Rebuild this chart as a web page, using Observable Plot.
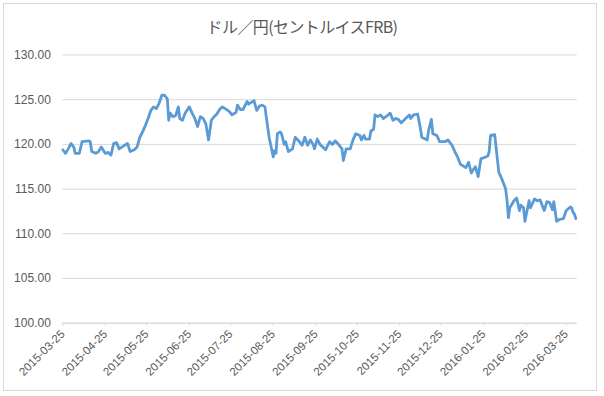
<!DOCTYPE html>
<html>
<head>
<meta charset="utf-8">
<script src="https://cdn.jsdelivr.net/npm/d3@7"></script>
<script src="https://cdn.jsdelivr.net/npm/@observablehq/plot@0.6"></script>
<style>
  html, body { margin: 0; padding: 0; background: #fff; }
  #wrap { position: relative; width: 604px; height: 396px; overflow: hidden; }
  #border { position: absolute; left: 3px; top: 3px; width: 594px; height: 388px; border: 1px solid #d9d9d9; box-sizing: border-box; pointer-events: none; }
  #title { position: absolute; left: 0; top: 14px; width: 604px; text-align: center; font-family: "Noto Sans CJK JP", sans-serif; font-size: 16px; color: #595959; letter-spacing: -0.6px; }
  #chart { position: absolute; left: 0; top: 0; }
</style>
</head>
<body>
<div id="wrap">
  <div id="chart"></div>
  <div id="border"></div>
  <div id="title">ドル／円(セントルイスFRB)</div>
</div>
<script>
const dates = [
  "2015-03-25","2015-03-27","2015-03-29","2015-03-31","2015-04-02","2015-04-03","2015-04-06","2015-04-08",
  "2015-04-13","2015-04-14","2015-04-15","2015-04-18","2015-04-20","2015-04-22","2015-04-24","2015-04-25",
  "2015-04-27","2015-04-29","2015-05-01","2015-05-03","2015-05-05","2015-05-08","2015-05-11","2015-05-13",
  "2015-05-16","2015-05-18","2015-05-20","2015-05-22","2015-05-24","2015-05-26","2015-05-28","2015-05-30",
  "2015-06-01","2015-06-03","2015-06-05","2015-06-07","2015-06-09","2015-06-10","2015-06-11","2015-06-13",
  "2015-06-15","2015-06-17","2015-06-18","2015-06-20","2015-06-22","2015-06-25","2015-06-27","2015-06-29",
  "2015-07-01","2015-07-03","2015-07-05","2015-07-07","2015-07-09","2015-07-11","2015-07-13","2015-07-15",
  "2015-07-17","2015-07-19","2015-07-21","2015-07-24","2015-07-26","2015-07-29","2015-07-30","2015-08-01",
  "2015-08-03","2015-08-06","2015-08-07","2015-08-09","2015-08-11","2015-08-13","2015-08-15","2015-08-17",
  "2015-08-19","2015-08-20","2015-08-22","2015-08-25","2015-08-26","2015-08-27","2015-08-28","2015-08-30",
  "2015-08-31","2015-09-02","2015-09-03","2015-09-05","2015-09-08","2015-09-10","2015-09-13","2015-09-15",
  "2015-09-17","2015-09-19","2015-09-21","2015-09-23","2015-09-24","2015-09-26","2015-09-28","2015-09-30",
  "2015-10-02","2015-10-05","2015-10-07","2015-10-09","2015-10-12","2015-10-14","2015-10-15","2015-10-17",
  "2015-10-20","2015-10-22","2015-10-24","2015-10-27","2015-10-28","2015-10-30","2015-10-31","2015-11-03",
  "2015-11-04","2015-11-06","2015-11-07","2015-11-09","2015-11-11","2015-11-13","2015-11-15","2015-11-18",
  "2015-11-20","2015-11-22","2015-11-24","2015-11-26","2015-11-28","2015-11-30","2015-12-02","2015-12-03",
  "2015-12-05","2015-12-08","2015-12-10","2015-12-11","2015-12-15","2015-12-16","2015-12-18","2015-12-19",
  "2015-12-22","2015-12-24","2015-12-28","2015-12-30","2016-01-02","2016-01-04","2016-01-06","2016-01-08",
  "2016-01-10","2016-01-12","2016-01-14","2016-01-16","2016-01-17","2016-01-19","2016-01-21","2016-01-23",
  "2016-01-25","2016-01-28","2016-01-29","2016-01-30","2016-02-02","2016-02-03","2016-02-05","2016-02-07",
  "2016-02-10","2016-02-11","2016-02-12","2016-02-13","2016-02-16","2016-02-18","2016-02-20","2016-02-21",
  "2016-02-23","2016-02-24","2016-02-27","2016-02-28","2016-03-02","2016-03-04","2016-03-06","2016-03-09",
  "2016-03-11","2016-03-13","2016-03-15","2016-03-16","2016-03-18","2016-03-20","2016-03-23","2016-03-25",
  "2016-03-28","2016-03-29","2016-03-30","2016-03-31","2016-04-01"
];
const rates = [
  119.4,119.0,119.5,120.1,119.7,119.0,119.0,120.3,
  120.4,120.3,119.2,119.0,119.2,119.7,119.2,119.0,
  119.1,118.8,120.1,120.2,119.5,119.8,120.1,119.2,
  119.4,119.7,120.8,121.4,122.1,122.9,123.8,124.2,
  124.0,124.6,125.5,125.5,125.1,122.7,123.5,123.1,
  123.2,124.2,122.9,122.7,123.5,124.2,123.5,122.9,
  122.0,123.1,122.9,122.3,120.5,122.7,123.1,123.4,
  123.9,124.2,124.0,123.7,123.3,123.6,124.4,123.9,
  123.9,124.8,124.5,124.7,124.9,123.8,124.3,124.4,
  124.2,123.0,120.8,118.6,119.3,119.0,121.2,121.4,
  121.2,120.0,120.3,119.2,119.5,120.8,120.3,119.9,
  120.8,119.9,120.5,120.0,119.5,120.6,120.0,119.7,
  119.4,120.3,120.0,120.4,119.9,119.5,118.2,119.5,
  119.5,120.5,121.2,121.0,120.5,121.0,120.6,120.6,
  121.5,121.7,123.3,123.1,123.3,122.9,123.1,123.5,
  122.7,122.9,122.8,122.4,122.7,123.0,123.3,122.9,
  123.3,123.4,121.8,120.8,120.5,121.6,122.8,121.2,
  121.0,120.3,120.3,120.5,119.9,119.2,118.6,117.8,
  117.6,117.4,118.0,116.8,117.1,117.5,116.4,118.4,
  118.5,118.7,119.2,121.0,121.1,119.7,116.9,116.2,
  115.0,113.7,111.8,112.9,113.7,114.0,112.6,113.2,
  112.9,111.4,113.7,112.9,113.9,113.7,113.8,112.6,
  113.6,113.5,112.7,113.6,111.4,111.6,111.7,112.6,
  113.0,112.9,112.4,112.2,111.7
];
const yTicks = [100, 105, 110, 115, 120, 125, 130];
const xTickLabels = [
  "2015-03-25","2015-04-25","2015-05-25","2015-06-25","2015-07-25","2015-08-25",
  "2015-09-25","2015-10-25","2015-11-25","2015-12-25","2016-01-25","2016-02-25","2016-03-25"
];
const xDomain = ["2015-03-25", "2016-04-02"];

const parse = s => new Date(s + "T00:00:00Z");
const data = dates.map((d, i) => ({ date: parse(d), rate: rates[i] }));
const xTicks = xTickLabels.map(parse);

const chart = Plot.plot({
  width: 604,
  height: 396,
  marginTop: 54.5,
  marginBottom: 73.3,
  marginLeft: 62.3,
  marginRight: 27.3,
  style: { fontFamily: "'Liberation Sans', Arial, sans-serif", background: "transparent", color: "#595959" },
  x: { type: "utc", domain: xDomain.map(parse) },
  y: { domain: [100, 130] },
  marks: [
    Plot.gridY(yTicks, { stroke: "#d9d9d9", strokeOpacity: 1 }),
    Plot.axisY(yTicks, { tickSize: 0, tickPadding: 12, fontSize: 12, fill: "#595959", tickFormat: d => d.toFixed(2), label: null }),
    Plot.ruleY([100], { stroke: "#d9d9d9" }),
    Plot.axisX(xTicks, { tickSize: 3, tickPadding: 6, tickRotate: -45, fontSize: 11.5, fill: "#595959", stroke: "#d9d9d9", strokeOpacity: 1, tickFormat: d3.utcFormat("%Y-%m-%d"), label: null }),
    Plot.line(data, { x: "date", y: "rate", stroke: "#5b9bd5", strokeWidth: 2.8, strokeLinejoin: "round", strokeLinecap: "round" })
  ]
});
document.getElementById("chart").appendChild(chart);
</script>
</body>
</html>
